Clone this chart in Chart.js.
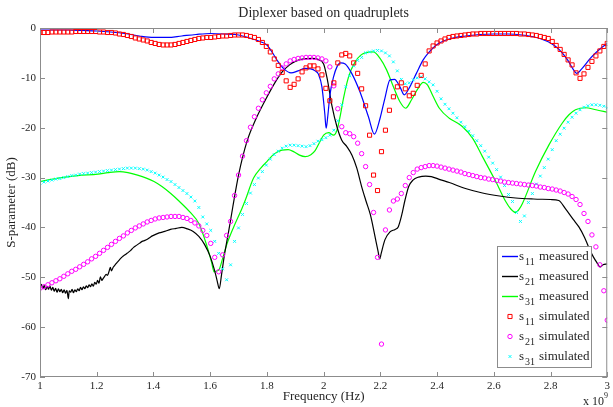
<!DOCTYPE html>
<html>
<head>
<meta charset="utf-8">
<title>Diplexer based on quadruplets</title>
<script src="https://cdn.jsdelivr.net/npm/chart.js@4.4.0/dist/chart.umd.min.js"></script>
<style>
    body { margin: 0; background: #fff; }
    #wrap { width: 613px; height: 407px; }
</style>
</head>
<body>
<div id="wrap"><canvas id="grafico" width="613" height="407"></canvas></div>
<script>
// Dati (frequenza in GHz, valori in dB)
const xTicks = [1, 1.2, 1.4, 1.6, 1.8, 2, 2.2, 2.4, 2.6, 2.8, 3];
const yTicks = [0, -10, -20, -30, -40, -50, -60, -70];

// misure: s11
const s11MeasFreq = [1.00, 1.05, 1.10, 1.15, 1.20, 1.25, 1.30, 1.35, 1.40, 1.45, 1.50, 1.55, 1.60, 1.65, 1.70, 1.75, 1.78, 1.80, 1.82, 1.84,
    1.86, 1.885, 1.91, 1.935, 1.955, 1.97, 1.982, 1.994, 2.004, 2.009, 2.015, 2.022, 2.035, 2.047, 2.06, 2.076, 2.099, 2.128, 2.158, 2.179,
    2.199, 2.216, 2.234, 2.25, 2.269, 2.284, 2.304, 2.327, 2.351, 2.368, 2.40, 2.443, 2.50, 2.55, 2.60, 2.65, 2.70, 2.75, 2.80, 2.83,
    2.86, 2.88, 2.892, 2.91, 2.94, 2.97, 3.00];
const s11Meas = [-0.4, -0.4, -0.4, -0.5, -0.6, -0.8, -1.1, -1.6, -1.9, -1.9, -1.6, -1.3, -1.1, -1.2, -1.4, -2.2, -2.8, -3.4, -5.0, -6.8,
    -8.2, -9.0, -8.6, -8.1, -8.2, -8.6, -9.3, -11.8, -17.1, -20.1, -17.5, -13.5, -9.8, -7.8, -7.0, -7.2, -9.1, -12.8, -17.8, -21.3,
    -18.1, -14.1, -10.4, -10.3, -11.8, -13.4, -11.8, -9.1, -6.4, -5.1, -3.3, -2.2, -1.6, -1.3, -1.2, -1.2, -1.4, -1.9, -3.0, -4.3,
    -6.4, -8.3, -9.1, -8.2, -6.1, -4.4, -3.1];

// misure: s21
const s21MeasFreq = [1.000, 1.005, 1.010, 1.015, 1.020, 1.025, 1.030, 1.035, 1.040, 1.045, 1.050, 1.055, 1.060, 1.065, 1.070, 1.075, 1.080, 1.085, 1.090, 1.095,
    1.100, 1.103, 1.108, 1.113, 1.118, 1.123, 1.128, 1.133, 1.138, 1.143, 1.148, 1.153, 1.158, 1.163, 1.168, 1.173, 1.178, 1.183, 1.188, 1.193,
    1.198, 1.203, 1.208, 1.213, 1.218, 1.223, 1.228, 1.233, 1.238, 1.243, 1.248, 1.252, 1.258, 1.265, 1.272, 1.28, 1.29, 1.30, 1.309, 1.32,
    1.33, 1.34, 1.35, 1.36, 1.37, 1.38, 1.39, 1.40, 1.42, 1.44, 1.46, 1.48, 1.50, 1.52, 1.54, 1.56, 1.58, 1.60, 1.615, 1.625,
    1.632, 1.64, 1.65, 1.66, 1.67, 1.68, 1.70, 1.73, 1.76, 1.795, 1.83, 1.854, 1.88, 1.90, 1.93, 1.96, 1.98, 2.0, 2.012, 2.029,
    2.047, 2.064, 2.082, 2.1, 2.117, 2.134, 2.15, 2.165, 2.18, 2.192, 2.198, 2.203, 2.216, 2.234, 2.252, 2.263, 2.275, 2.287, 2.30, 2.315,
    2.335, 2.36, 2.38, 2.41, 2.443, 2.50, 2.56, 2.62, 2.677, 2.74, 2.80, 2.829, 2.853, 2.88, 2.90, 2.92, 2.934, 2.95, 2.963, 2.975,
    2.985, 3.00];
const s21Meas = [-52.0, -51.4, -52.3, -51.6, -52.5, -51.8, -52.4, -51.7, -52.6, -52.0, -52.8, -52.2, -53.0, -52.3, -52.9, -52.4, -53.1, -52.5, -53.2, -52.6,
    -54.3, -52.7, -53.0, -52.4, -53.1, -52.5, -52.9, -52.3, -52.7, -52.0, -52.5, -51.9, -52.3, -51.7, -52.1, -51.5, -51.9, -51.3, -51.8, -51.0,
    -51.4, -50.6, -51.2, -49.9, -50.6, -50.2, -49.8, -49.4, -49.6, -48.9, -48.0, -48.7, -48.0, -47.5, -47.0, -46.5, -45.9, -45.5, -45.1, -44.6,
    -44.0, -43.6, -43.2, -42.8, -42.6, -42.3, -41.9, -41.6, -41.1, -40.8, -40.4, -40.2, -40.0, -40.3, -40.8, -41.8, -43.4, -45.8, -48.5, -50.8,
    -52.3, -49.5, -45.6, -42.4, -39.2, -35.8, -29.5, -22.7, -18.4, -14.4, -10.8, -8.8, -7.4, -6.7, -6.2, -6.1, -6.3, -7.2, -10.0, -15.5,
    -19.8, -22.5, -23.8, -25.5, -28.1, -31.8, -34.8, -37.5, -41.5, -44.8, -46.3, -45.2, -42.5, -40.9, -40.4, -39.9, -37.6, -34.5, -31.8, -30.5,
    -29.9, -29.7, -29.8, -30.4, -31.0, -32.2, -33.1, -33.7, -34.1, -34.3, -34.4, -34.6, -36.3, -38.4, -39.9, -42.0, -43.9, -45.8, -47.0, -47.9,
    -47.5, -47.3];

// misure: s31
const s31MeasFreq = [1.0, 1.063, 1.133, 1.204, 1.24, 1.28, 1.31, 1.344, 1.375, 1.402, 1.43, 1.461, 1.49, 1.53, 1.561, 1.59, 1.605, 1.614, 1.625, 1.632,
    1.645, 1.66, 1.683, 1.712, 1.724, 1.753, 1.78, 1.80, 1.825, 1.853, 1.875, 1.894, 1.915, 1.935, 1.955, 1.97, 1.985, 2.0, 2.018, 2.035,
    2.047, 2.058, 2.07, 2.088, 2.111, 2.13, 2.146, 2.175, 2.199, 2.222, 2.246, 2.269, 2.289, 2.31, 2.333, 2.351, 2.366, 2.385, 2.408, 2.443,
    2.47, 2.49, 2.525, 2.56, 2.607, 2.642, 2.66, 2.677, 2.69, 2.701, 2.747, 2.794, 2.841, 2.865, 2.888, 2.923, 2.96, 3.0];
const s31Meas = [-30.8, -30.1, -29.6, -29.3, -29.0, -28.8, -29.0, -29.5, -30.1, -30.8, -31.8, -33.2, -34.7, -37.0, -39.3, -44.0, -47.0, -48.9, -48.7, -48.4,
    -46.0, -43.2, -39.9, -36.2, -34.5, -30.1, -28.0, -26.8, -25.3, -24.5, -24.4, -24.8, -25.5, -25.8, -25.4, -24.6, -23.0, -21.5, -21.0, -21.5,
    -20.5, -17.8, -14.1, -9.8, -6.8, -5.5, -5.0, -4.8, -6.1, -8.4, -11.8, -14.8, -16.1, -14.4, -12.1, -10.9, -11.4, -13.6, -16.1, -18.1,
    -19.0, -19.8, -22.1, -25.8, -30.8, -34.8, -36.3, -37.0, -36.3, -35.2, -28.8, -23.5, -19.1, -17.4, -16.4, -16.0, -16.4, -16.9];

// simulazioni (stessa griglia di frequenze)
const simFreq = [1.000, 1.014, 1.028, 1.042, 1.056, 1.070, 1.084, 1.098, 1.112, 1.126,
    1.140, 1.154, 1.168, 1.182, 1.196, 1.210, 1.224, 1.238, 1.252, 1.266,
    1.280, 1.294, 1.308, 1.322, 1.336, 1.350, 1.364, 1.378, 1.392, 1.406,
    1.420, 1.434, 1.448, 1.462, 1.476, 1.490, 1.504, 1.518, 1.532, 1.546,
    1.560, 1.574, 1.588, 1.602, 1.616, 1.630, 1.644, 1.658, 1.672, 1.686,
    1.700, 1.714, 1.728, 1.742, 1.756, 1.770, 1.784, 1.798, 1.812, 1.826,
    1.840, 1.854, 1.868, 1.882, 1.896, 1.910, 1.924, 1.938, 1.952, 1.966,
    1.980, 1.994, 2.008, 2.022, 2.036, 2.050, 2.064, 2.078, 2.092, 2.106,
    2.120, 2.134, 2.148, 2.162, 2.176, 2.190, 2.204, 2.218, 2.232, 2.246,
    2.260, 2.274, 2.288, 2.302, 2.316, 2.330, 2.344, 2.358, 2.372, 2.386,
    2.400, 2.414, 2.428, 2.442, 2.456, 2.470, 2.484, 2.498, 2.512, 2.526,
    2.540, 2.554, 2.568, 2.582, 2.596, 2.610, 2.624, 2.638, 2.652, 2.666,
    2.680, 2.694, 2.708, 2.722, 2.736, 2.750, 2.764, 2.778, 2.792, 2.806,
    2.820, 2.834, 2.848, 2.862, 2.876, 2.890, 2.904, 2.918, 2.932, 2.946,
    2.960, 2.974, 2.988, 3.000];
const s11Sim = [-0.9, -0.9, -0.9, -0.8, -0.8, -0.8, -0.8, -0.8, -0.8, -0.7,
    -0.7, -0.7, -0.7, -0.7, -0.7, -0.8, -0.8, -0.9, -0.9, -1.0,
    -1.2, -1.3, -1.5, -1.7, -2.0, -2.2, -2.4, -2.6, -2.9, -3.1,
    -3.3, -3.4, -3.4, -3.4, -3.3, -3.1, -2.9, -2.7, -2.5, -2.3,
    -2.1, -2.0, -1.9, -1.9, -1.8, -1.7, -1.6, -1.6, -1.5, -1.4,
    -1.4, -1.4, -1.5, -1.7, -1.9, -2.3, -2.9, -3.7, -4.8, -6.2,
    -7.5, -8.9, -10.6, -11.9, -11.3, -10.2, -8.8, -8.0, -7.6, -7.6,
    -8.2, -9.4, -12.1, -14.6, -11.0, -7.0, -5.4, -5.1, -5.6, -7.0,
    -9.1, -12.2, -15.6, -21.5, -29.5, -32.6, -24.8, -20.5, -16.5, -13.8,
    -11.8, -11.0, -12.2, -13.6, -13.1, -11.5, -9.5, -7.2, -4.6, -3.6,
    -3.0, -2.6, -2.2, -1.9, -1.7, -1.6, -1.5, -1.4, -1.3, -1.2,
    -1.2, -1.1, -1.1, -1.1, -1.1, -1.1, -1.1, -1.1, -1.1, -1.1,
    -1.1, -1.2, -1.2, -1.3, -1.4, -1.5, -1.7, -1.9, -2.1, -2.7,
    -3.5, -4.3, -5.3, -6.4, -7.4, -9.0, -10.1, -9.2, -7.9, -6.7,
    -5.6, -4.6, -3.7, -3.1];
const s21Sim = [-52.2, -51.9, -51.5, -51.1, -50.7, -50.3, -49.8, -49.3, -48.8, -48.4,
    -47.9, -47.4, -46.9, -46.3, -45.8, -45.2, -44.6, -44.0, -43.4, -42.8,
    -42.2, -41.7, -41.1, -40.6, -40.1, -39.7, -39.3, -38.9, -38.6, -38.3,
    -38.1, -38.0, -37.9, -37.8, -37.8, -37.8, -38.0, -38.2, -38.6, -39.1,
    -39.7, -40.6, -41.6, -43.2, -46.0, -48.9, -45.5, -41.6, -38.8, -33.6,
    -29.5, -25.7, -22.6, -19.9, -17.8, -16.1, -14.4, -13.0, -11.7, -10.2,
    -9.2, -8.0, -7.2, -6.6, -6.3, -6.1, -6.0, -5.9, -5.9, -5.9,
    -6.0, -6.2, -6.6, -7.8, -11.6, -16.2, -19.8, -21.0, -21.2, -21.8,
    -23.1, -25.2, -27.8, -31.4, -37.0, -46.0, -63.4, -40.5, -36.5, -34.7,
    -34.3, -33.2, -31.6, -30.0, -29.0, -28.3, -28.0, -27.8, -27.6, -27.6,
    -27.7, -27.9, -28.1, -28.3, -28.5, -28.7, -28.9, -29.2, -29.4, -29.6,
    -29.8, -30.0, -30.1, -30.3, -30.4, -30.6, -30.7, -30.9, -31.0, -31.1,
    -31.2, -31.3, -31.4, -31.5, -31.6, -31.7, -31.9, -32.0, -32.2, -32.3,
    -32.5, -32.7, -33.0, -33.3, -33.8, -34.4, -35.4, -37.2, -38.8, -41.5,
    -43.9, -47.5, -52.7, -58.6];
const s31Sim = [-31.1, -30.9, -30.7, -30.5, -30.3, -30.2, -30.0, -29.8, -29.6, -29.5,
    -29.3, -29.2, -29.1, -29.0, -28.9, -28.8, -28.7, -28.6, -28.5, -28.4,
    -28.3, -28.2, -28.1, -28.1, -28.1, -28.2, -28.3, -28.5, -28.8, -29.1,
    -29.5, -29.9, -30.4, -30.8, -31.4, -32.0, -32.6, -33.2, -33.9, -34.7,
    -36.0, -37.9, -39.3, -40.6, -42.8, -45.2, -48.3, -50.5, -47.5, -42.8,
    -40.1, -37.4, -35.2, -33.1, -31.4, -30.1, -28.8, -27.5, -26.3, -25.4,
    -24.7, -24.1, -23.7, -23.5, -23.5, -23.6, -23.7, -23.8, -23.6, -23.2,
    -22.7, -22.4, -22.0, -21.5, -20.5, -18.6, -15.4, -11.8, -9.6, -7.6,
    -6.5, -5.9, -5.0, -4.8, -4.6, -4.5, -4.6, -5.0, -5.6, -6.8,
    -8.6, -10.3, -11.2, -11.0, -10.4, -10.0, -9.8, -10.2, -10.8, -11.4,
    -12.7, -14.2, -15.3, -16.2, -17.1, -18.0, -18.9, -19.8, -20.7, -21.6,
    -22.6, -23.6, -24.7, -25.9, -27.1, -28.4, -29.9, -31.6, -33.4, -34.8,
    -37.0, -38.8, -37.7, -35.0, -33.2, -31.3, -29.7, -28.0, -26.3, -24.4,
    -22.6, -21.3, -20.1, -18.9, -17.9, -17.1, -16.4, -15.9, -15.6, -15.4,
    -15.4, -15.5, -15.7, -16.0];

const legendaPedici = ['11', '21', '31', '11', '21', '31'];
const legendaTesti = ['measured', 'measured', 'measured', 'simulated', 'simulated', 'simulated'];

const serif = '"Liberation Serif", "DejaVu Serif", serif';
const grigio = '#8c8c8c';
const testo = '#262626';

function punti(freq, valori) {
    return freq.map((f, i) => ({ x: f, y: valori[i] }));
}

function misura(dati, colore) {
    return {
        data: dati, borderColor: colore, borderWidth: 1.2, pointRadius: 0,
        cubicInterpolationMode: 'monotone', fill: false, order: 2
    };
}

function simulazione(dati, colore, stile, raggio) {
    return {
        data: dati, showLine: false, borderColor: colore, backgroundColor: 'transparent',
        pointStyle: stile, pointRadius: raggio, pointBorderColor: colore, pointBorderWidth: 1,
        pointBackgroundColor: 'transparent', order: 1
    };
}

function disegnaSimbolo(ctx, ds, x, y) {
    ctx.strokeStyle = ds.borderColor;
    ctx.lineWidth = 1;
    ctx.beginPath();
    if (ds.showLine === false) {
        const r = ds.pointRadius;
        if (ds.pointStyle === 'rect') {
            const h = r * Math.SQRT1_2;
            ctx.rect(x - h, y - h, 2 * h, 2 * h);
        } else if (ds.pointStyle === 'circle') {
            ctx.arc(x, y, r, 0, Math.PI * 2);
        } else {
            const h = r * Math.SQRT1_2;
            ctx.moveTo(x - h, y - h); ctx.lineTo(x + h, y + h);
            ctx.moveTo(x - h, y + h); ctx.lineTo(x + h, y - h);
        }
    } else {
        ctx.lineWidth = 1.4;
        ctx.moveTo(x - 8, y);
        ctx.lineTo(x + 8, y);
    }
    ctx.stroke();
}

const decorazioni = {
    id: 'decorazioni',
    afterDraw(chart) {
        const ctx = chart.ctx;
        const a = chart.chartArea;
        const sx = chart.scales.x, sy = chart.scales.y;
        ctx.save();

        // cornice e tacche verso l'interno
        ctx.strokeStyle = grigio;
        ctx.lineWidth = 1;
        ctx.strokeRect(a.left + 0.5, a.top + 0.5, a.right - a.left - 1, a.bottom - a.top - 1);
        ctx.beginPath();
        xTicks.forEach(v => {
            const px = Math.round(sx.getPixelForValue(v)) + 0.5;
            ctx.moveTo(px, a.bottom); ctx.lineTo(px, a.bottom - 5);
            ctx.moveTo(px, a.top); ctx.lineTo(px, a.top + 5);
        });
        yTicks.forEach(v => {
            const py = Math.round(sy.getPixelForValue(v)) + 0.5;
            ctx.moveTo(a.left, py); ctx.lineTo(a.left + 5, py);
            ctx.moveTo(a.right, py); ctx.lineTo(a.right - 5, py);
        });
        ctx.stroke();

        // titolo ed etichette degli assi
        ctx.fillStyle = testo;
        ctx.textAlign = 'center';
        ctx.textBaseline = 'middle';
        const cx = (a.left + a.right) / 2;
        ctx.font = '14px ' + serif;
        ctx.fillText('Diplexer based on quadruplets', cx, 13);
        ctx.font = '13px ' + serif;
        ctx.fillText('Frequency (Hz)', cx, 397);
        ctx.save();
        ctx.translate(12, (a.top + a.bottom) / 2);
        ctx.rotate(-Math.PI / 2);
        ctx.fillText('S-parameter (dB)', 0, 0);
        ctx.restore();

        // x 10^9
        ctx.textAlign = 'left';
        ctx.textBaseline = 'alphabetic';
        ctx.font = '12px ' + serif;
        ctx.fillText('x 10', 583, 405);
        ctx.font = '8px ' + serif;
        ctx.fillText('9', 604, 398);

        // legenda
        const lx = 497.5, ly = 246.5, lw = 94, lh = 121;
        ctx.fillStyle = '#fff';
        ctx.fillRect(lx, ly, lw, lh);
        ctx.strokeStyle = grigio;
        ctx.strokeRect(lx, ly, lw, lh);
        const ordine = [3, 4, 5, 0, 1, 2];
        ordine.forEach((k, i) => {
            const ds = chart.data.datasets[k];
            const y = ly + 10 + i * 20;
            disegnaSimbolo(ctx, ds, 510, y);
            ctx.fillStyle = testo;
            ctx.textAlign = 'left';
            ctx.textBaseline = 'alphabetic';
            ctx.font = '13px ' + serif;
            ctx.fillText('s', 519, y + 3);
            ctx.font = '10px ' + serif;
            ctx.fillText(legendaPedici[i], 525, y + 8);
            ctx.font = '13px ' + serif;
            ctx.fillText(legendaTesti[i], 539, y + 3);
        });
        ctx.restore();
    }
};

new Chart(document.getElementById('grafico').getContext('2d'), {
    type: 'line',
    data: {
        datasets: [
            simulazione(punti(simFreq, s11Sim), '#ff0000', 'rect', 2.9),
            simulazione(punti(simFreq, s21Sim), '#ff00ff', 'circle', 2.2),
            simulazione(punti(simFreq, s31Sim), '#00ffff', 'crossRot', 2),
            misura(punti(s11MeasFreq, s11Meas), '#0000ff'),
            misura(punti(s21MeasFreq, s21Meas), '#000000'),
            misura(punti(s31MeasFreq, s31Meas), '#00ff00')
        ]
    },
    options: {
        responsive: false,
        animation: false,
        layout: { padding: { top: 28, right: 3, left: 0, bottom: 0 } },
        plugins: {
            legend: { display: false },
            tooltip: { enabled: false },
            title: { display: false }
        },
        scales: {
            x: {
                type: 'linear', min: 1, max: 3,
                grid: { display: false, drawTicks: false },
                border: { display: false },
                afterFit: s => { s.height = 30; },
                afterBuildTicks: s => { s.ticks = xTicks.map(v => ({ value: v })); },
                ticks: {
                    padding: 3, color: testo, maxRotation: 0, autoSkip: false,
                    font: { family: serif, size: 11 },
                    callback: v => String(v)
                }
            },
            y: {
                type: 'linear', min: -70, max: 0,
                grid: { display: false, drawTicks: false },
                border: { display: false },
                afterFit: s => { s.width = 40; },
                afterBuildTicks: s => { s.ticks = yTicks.map(v => ({ value: v })); },
                ticks: {
                    padding: 4, color: testo, autoSkip: false,
                    font: { family: serif, size: 11 },
                    callback: v => String(v)
                }
            }
        }
    },
    plugins: [decorazioni]
});
</script>
</body>
</html>
